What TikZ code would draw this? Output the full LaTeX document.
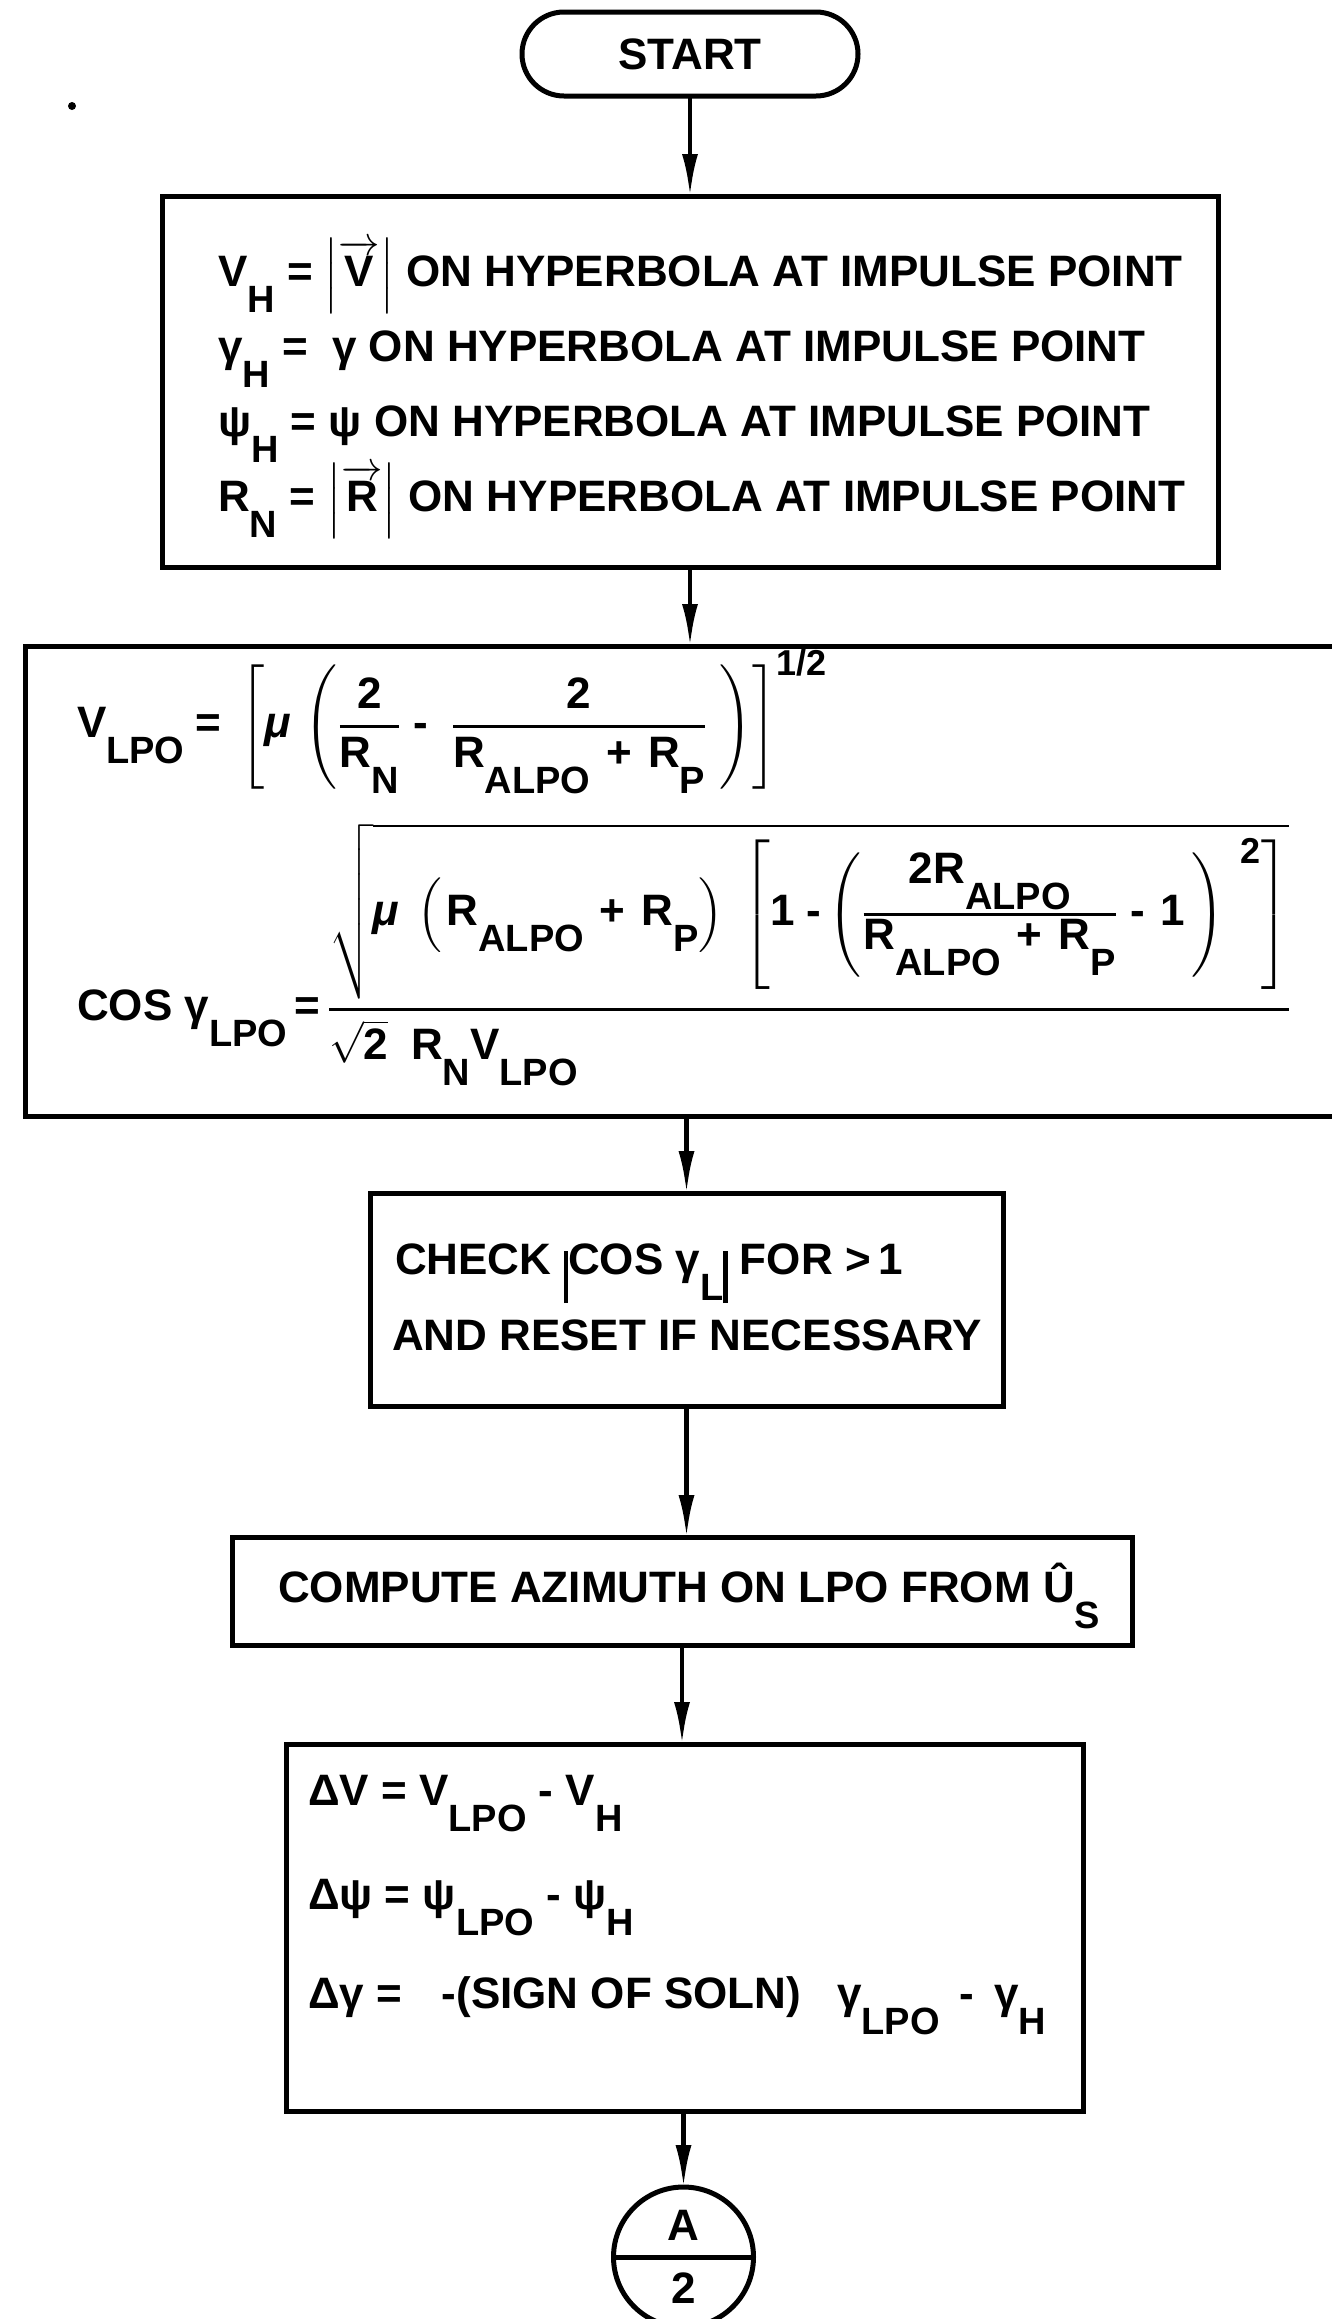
\documentclass[tikz,border=0pt]{standalone}
\usepackage{amsmath}
\usepackage{fontspec}
\setmainfont{Liberation Sans}
\usetikzlibrary{arrows.meta}
\newcommand\bigf{\fontsize{22}{26}\selectfont\bfseries}
\newcommand\dn[1]{\raisebox{-13pt}{\fontsize{19}{20}\selectfont #1}}
\newcommand\supf[1]{\mbox{\fontsize{18}{19}\selectfont #1}}
\newcommand\vbar{\rule[-14.5pt]{2.2pt}{26pt}}
\newcommand\pls{\hspace{8pt}+\hspace{8pt}}
\newcommand\fr[2]{\genfrac{}{}{1.5pt}{}{#1}{#2}}
\begin{document}
\begin{tikzpicture}[x=0.5pt,y=-0.5pt,
  box/.style={draw,line width=2.5pt,inner sep=0pt,outer sep=0pt},
  txt/.style={anchor=base west,inner sep=0pt,outer sep=0pt,font=\bigf},
  arr/.style={line width=2.2pt,-{Latex[length=21pt,width=8pt]}}]
\clip (0,0) rectangle (1332,2319);
\fill[white] (0,0) rectangle (1332,2319);
% stray mark
\fill (72,106) circle (2pt);
% nodes
\node[box,rounded corners=21pt,minimum width=168pt,minimum height=42pt,font=\bigf] (start) at (690,54) {START};
\node[box,minimum width=528pt,minimum height=185.5pt] (box1) at (690,381.5) {};
\node[box,minimum width=687.5pt,minimum height=235pt] (box2) at (712.5,881) {};
\node[box,minimum width=316.5pt,minimum height=106.5pt] (box3) at (686.5,1299.5) {};
\node[box,minimum width=450pt,minimum height=54pt] (box4) at (682,1591) {};
\node[box,minimum width=398.5pt,minimum height=183.5pt] (box5) at (684.5,1927.5) {};
\node[draw,circle,line width=2.5pt,minimum size=70pt,inner sep=0pt,outer sep=0pt] (conn) at (683.5,2257) {};
\draw[line width=2.5pt] (conn.west) -- (conn.east);
\node[font=\bigf,inner sep=0pt] (connA) at (683.5,2225) {A};
\node[font=\bigf,inner sep=0pt] (conn2) at (683.5,2288) {2};
% box 1 texts
\node[txt] (l1) at (218,286) {V\dn{H} = $\left|\overrightarrow{\mbox{V}}\right|$ ON HYPERBOLA AT IMPULSE POINT};
\node[txt] (l2) at (218,361) {γ\dn{H} =\ \ γ ON HYPERBOLA AT IMPULSE POINT};
\node[txt] (l3) at (218,436) {ψ\dn{H} = ψ ON HYPERBOLA AT IMPULSE POINT};
\node[txt] (l4) at (218,511) {R\dn{N} = $\left|\overrightarrow{\mbox{R}}\right|$ ON HYPERBOLA AT IMPULSE POINT};
% box 2 formulas
\node[txt] (f1) at (77,737) {$\displaystyle \mbox{V\dn{LPO}}\;\mbox{=}\;\left[\mbox{\itshape μ}\,\left(\fr{\mbox{2}}{\mbox{R\dn{N}}}\;\mbox{-}\;\;\fr{\mbox{2}}{\mbox{R\dn{ALPO}\hspace{8pt}+\hspace{8pt}R\dn{P}}}\hspace{6pt}\right)\right]^{\supf{1/2}}$};
\node[txt] (f2) at (77,1020) {$\displaystyle \mbox{COS γ\dn{LPO}}\,\mbox{=}\,\fr{\sqrt{\mbox{\itshape μ}\;\left(\hspace{2pt}\mbox{R\dn{ALPO}\pls R\dn{P}}\right)\hspace{6pt}\left[\mbox{1 -}\left(\fr{\mbox{2R\dn{ALPO}}}{\mbox{R\dn{ALPO}\pls R\dn{P}}}\hspace{6pt}\mbox{-\hspace{8pt}1}\hspace{3pt}\right)^{\hspace{8pt}\supf{2}}\right]}}{\sqrt{\mbox{2}}\;\;\mbox{R\dn{N}V\dn{LPO}}\hfill}$};
% box 3 texts
\node[txt] (c1) at (395,1274) {CHECK \vbar COS γ\dn{L}\vbar\ FOR >\,1};
\node[txt] (c2) at (392,1350) {AND RESET IF NECESSARY};
% box 4 text
\node[txt] (comp) at (278,1602) {COMPUTE AZIMUTH ON LPO FROM Û\dn{S}};
% box 5 texts
\node[txt] (d1) at (308,1805) {ΔV = V\dn{LPO} - V\dn{H}};
\node[txt] (d2) at (308,1909) {Δψ = ψ\dn{LPO} - ψ\dn{H}};
\node[txt] (d3) at (308,2008) {Δγ\hspace{6pt}=\hspace{20pt}-(SIGN OF SOLN)\hspace{18pt}γ\dn{LPO}\hspace{10pt}-\hspace{10pt}γ\dn{H}};
% connectors
\draw[arr] (start.south) -- (box1.north);
\draw[arr] (box1.south) -- (box1.south |- box2.north);
\draw[arr] (box3.north |- box2.south) -- (box3.north);
\draw[arr] (box3.south) -- (box3.south |- box4.north);
\draw[arr] (box4.south) -- (box4.south |- box5.north);
\draw[arr] (conn.north |- box5.south) -- (conn.north);
\end{tikzpicture}
\end{document}
